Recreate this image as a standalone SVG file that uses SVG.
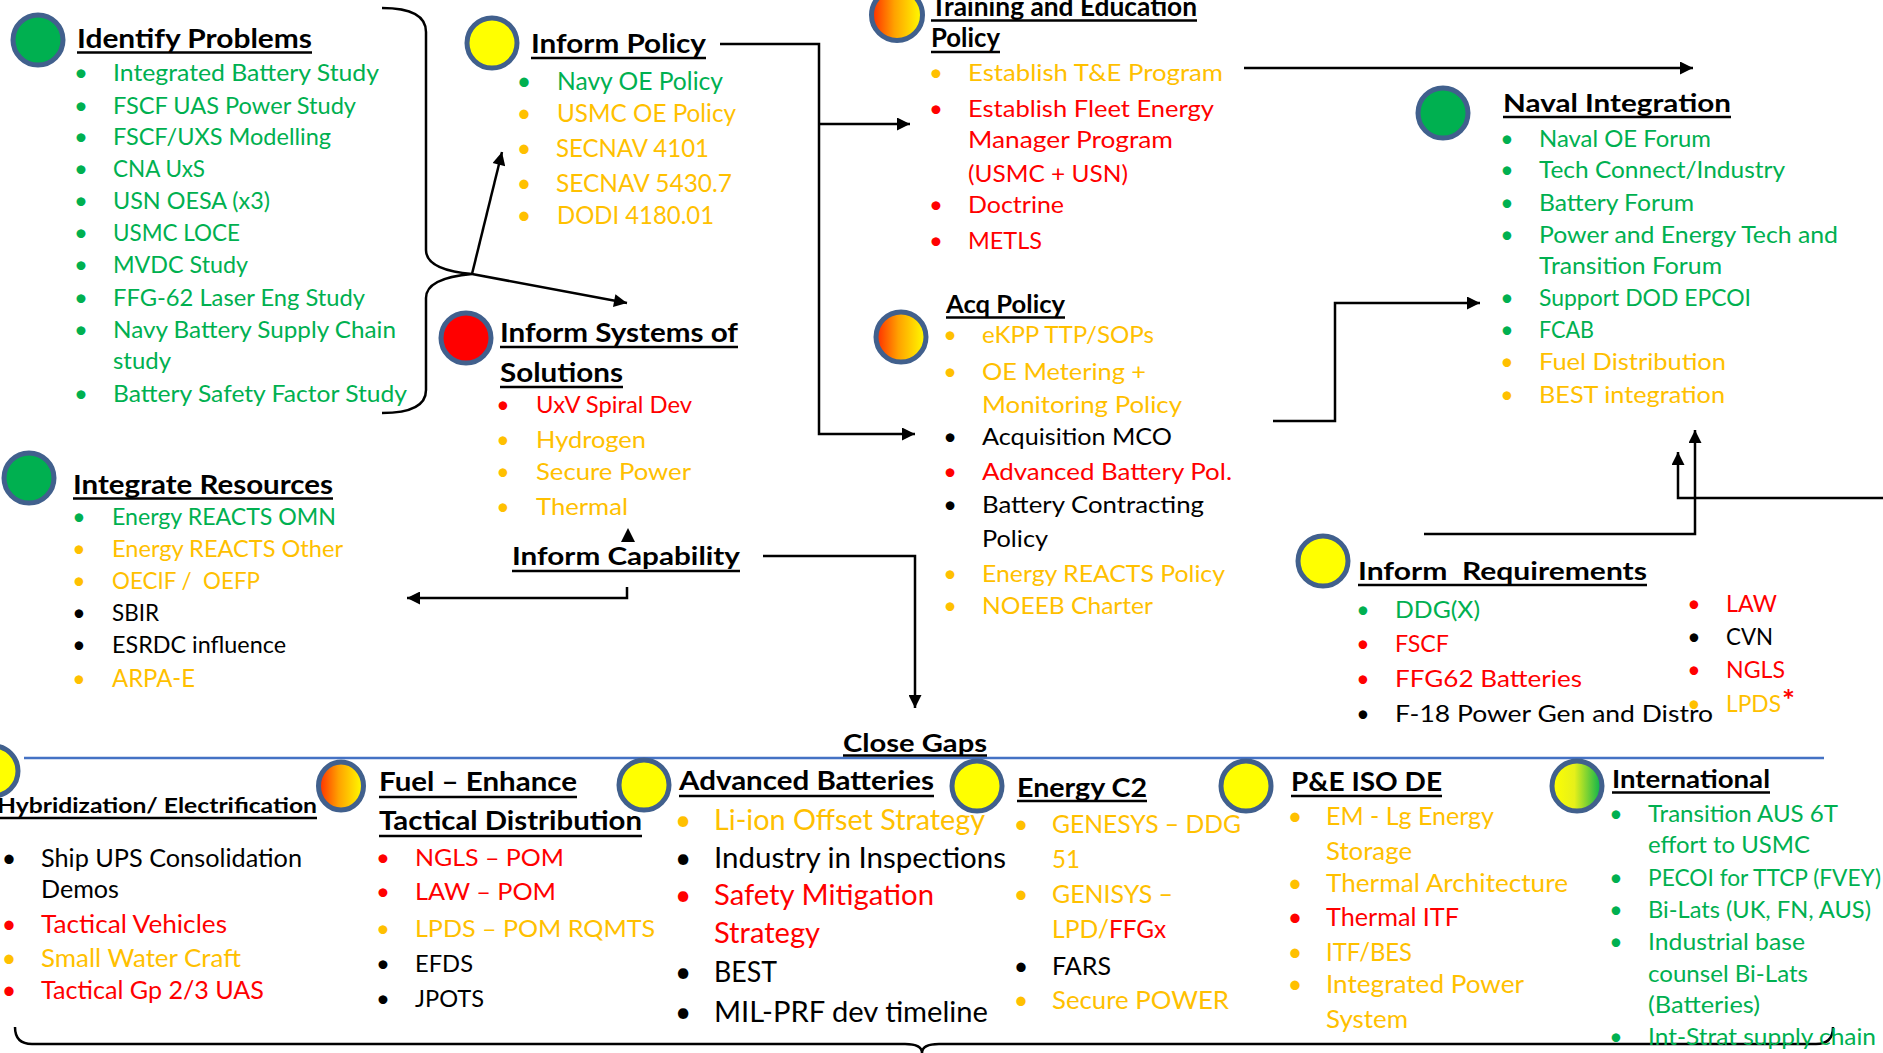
<svg xmlns="http://www.w3.org/2000/svg" width="1883" height="1053" viewBox="0 0 1883 1053">
<style>
text{font-family:Lato,"Liberation Sans",sans-serif}
.h{font-weight:700;fill:#000}
.g{fill:#00B050}.y{fill:#FFC000}.r{fill:#FF0000}.k{fill:#000}
.ul{stroke:#000;stroke-width:2.5}
.ring{stroke:#41608D;stroke-width:5}
.c{fill:none;stroke:#000;stroke-width:2.5}
.bu{text-anchor:middle}
</style>
<defs>
<marker id="ah" viewBox="0 0 10 10" refX="10" refY="5" markerWidth="15" markerHeight="13" markerUnits="userSpaceOnUse" orient="auto"><path d="M0,0 L10,5 L0,10 z" fill="#000"/></marker>
<linearGradient id="og" x1="0" y1="0" x2="1" y2="0"><stop offset="0" stop-color="#FF2A00"/><stop offset="0.45" stop-color="#FFA200"/><stop offset="1" stop-color="#FFFF00"/></linearGradient>
<linearGradient id="yg" x1="0" y1="0" x2="1" y2="0"><stop offset="0" stop-color="#FFFF00"/><stop offset="0.45" stop-color="#E6F01A"/><stop offset="1" stop-color="#00B050"/></linearGradient>
</defs>
<rect width="1883" height="1053" fill="#fff"/>

<g id="connectors">
<path class="c" stroke-width="2" d="M382,8 Q426,8 426,32 L426,250 Q426,270 472,274 Q426,278 426,298 L426,390 Q426,413 382,413"/>
<path class="c" d="M472,274 L502,152" marker-end="url(#ah)"/>
<path class="c" d="M472,274 L627,303" marker-end="url(#ah)"/>
<path class="c" d="M720,44 H819 V434 H915" marker-end="url(#ah)"/>
<path class="c" d="M819,124 H910" marker-end="url(#ah)"/>
<path class="c" d="M1244,68 H1693" marker-end="url(#ah)"/>
<path class="c" d="M1273,421 H1335 V303 H1480" marker-end="url(#ah)"/>
<polygon points="628,528 621,542 635,542" fill="#000"/>
<path class="c" d="M627,587 V598 H407" marker-end="url(#ah)"/>
<path class="c" d="M763,556 H915 V708" marker-end="url(#ah)"/>
<path class="c" d="M1424,534 H1695 V430" marker-end="url(#ah)"/>
<path class="c" d="M1883,498 H1678 V452" marker-end="url(#ah)"/>
<path d="M24,758 H1824" stroke="#4472C4" stroke-width="2.5" fill="none"/>
<path class="c" stroke-width="3" d="M15,1027 Q15,1044 32,1044 L905,1044 Q922,1044 922,1053 Q922,1044 939,1044 L1816,1044 Q1833,1044 1833,1027"/>
</g>

<g id="identify-problems">
<circle class="ring" cx="38" cy="40" r="25" fill="#00B050"/>
<text class="h" x="77" y="48" font-size="27" textLength="235" lengthAdjust="spacingAndGlyphs">Identify Problems</text>
<line class="ul" x1="77" y1="52.5" x2="312" y2="52.5"/>
<g font-size="24" class="g">
<text class="bu" x="81" y="81">•</text><text x="113" y="81" textLength="266" lengthAdjust="spacingAndGlyphs">Integrated Battery Study</text>
<text class="bu" x="81" y="114">•</text><text x="113" y="114" textLength="243" lengthAdjust="spacingAndGlyphs">FSCF UAS Power Study</text>
<text class="bu" x="81" y="145">•</text><text x="113" y="145" textLength="218" lengthAdjust="spacingAndGlyphs">FSCF/UXS Modelling</text>
<text class="bu" x="81" y="177">•</text><text x="113" y="177" textLength="92" lengthAdjust="spacingAndGlyphs">CNA UxS</text>
<text class="bu" x="81" y="209">•</text><text x="113" y="209" textLength="157" lengthAdjust="spacingAndGlyphs">USN OESA (x3)</text>
<text class="bu" x="81" y="241">•</text><text x="113" y="241" textLength="127" lengthAdjust="spacingAndGlyphs">USMC LOCE</text>
<text class="bu" x="81" y="273">•</text><text x="113" y="273" textLength="135" lengthAdjust="spacingAndGlyphs">MVDC Study</text>
<text class="bu" x="81" y="306">•</text><text x="113" y="306" textLength="252" lengthAdjust="spacingAndGlyphs">FFG-62 Laser Eng Study</text>
<text class="bu" x="81" y="338">•</text><text x="113" y="338" textLength="283" lengthAdjust="spacingAndGlyphs">Navy Battery Supply Chain</text>
<text x="113" y="369" textLength="58" lengthAdjust="spacingAndGlyphs">study</text>
<text class="bu" x="81" y="402">•</text><text x="113" y="402" textLength="294" lengthAdjust="spacingAndGlyphs">Battery Safety Factor Study</text>
</g>
</g>

<g id="inform-policy">
<circle class="ring" cx="492" cy="43" r="25" fill="#FFFF00"/>
<text class="h" x="531" y="53" font-size="26" textLength="175" lengthAdjust="spacingAndGlyphs">Inform Policy</text>
<line class="ul" x1="531" y1="58" x2="706" y2="58"/>
<g font-size="25">
<text class="bu g" x="524" y="90">•</text><text class="g" x="557" y="90" textLength="166" lengthAdjust="spacingAndGlyphs">Navy OE Policy</text>
<text class="bu y" x="524" y="122">•</text><text class="y" x="557" y="122" textLength="179" lengthAdjust="spacingAndGlyphs">USMC OE Policy</text>
<text class="bu y" x="524" y="157">•</text><text class="y" x="556" y="157" textLength="153" lengthAdjust="spacingAndGlyphs">SECNAV 4101</text>
<text class="bu y" x="524" y="192">•</text><text class="y" x="556" y="192" textLength="176" lengthAdjust="spacingAndGlyphs">SECNAV 5430.7</text>
<text class="bu y" x="524" y="224">•</text><text class="y" x="557" y="224" textLength="157" lengthAdjust="spacingAndGlyphs">DODI 4180.01</text>
</g>
</g>

<g id="training-education-policy">
<circle class="ring" cx="897" cy="15" r="25.5" fill="url(#og)"/>
<text class="h" x="931" y="16" font-size="26" textLength="266" lengthAdjust="spacingAndGlyphs">Training and Education</text>
<line class="ul" x1="931" y1="20.5" x2="1197" y2="20.5"/>
<text class="h" x="931" y="47" font-size="26" textLength="69" lengthAdjust="spacingAndGlyphs">Policy</text>
<line class="ul" x1="931" y1="52" x2="1000" y2="52"/>
<g font-size="24">
<text class="bu y" x="936" y="81">•</text><text class="y" x="968" y="81" textLength="255" lengthAdjust="spacingAndGlyphs">Establish T&amp;E Program</text>
<text class="bu r" x="936" y="117">•</text><text class="r" x="968" y="117" textLength="246" lengthAdjust="spacingAndGlyphs">Establish Fleet Energy</text>
<text class="r" x="968" y="148" textLength="205" lengthAdjust="spacingAndGlyphs">Manager Program</text>
<text class="r" x="968" y="182" textLength="160" lengthAdjust="spacingAndGlyphs">(USMC + USN)</text>
<text class="bu r" x="936" y="213">•</text><text class="r" x="968" y="213" textLength="96" lengthAdjust="spacingAndGlyphs">Doctrine</text>
<text class="bu r" x="936" y="249">•</text><text class="r" x="968" y="249" textLength="74" lengthAdjust="spacingAndGlyphs">METLS</text>
</g>
</g>

<g id="naval-integration">
<circle class="ring" cx="1443" cy="113" r="25" fill="#00B050"/>
<text class="h" x="1503" y="112" font-size="25.5" textLength="228" lengthAdjust="spacingAndGlyphs">Naval Integration</text>
<line class="ul" x1="1503" y1="117" x2="1731" y2="117"/>
<g font-size="23">
<text class="bu g" x="1507" y="147">•</text><text class="g" x="1539" y="147" textLength="172" lengthAdjust="spacingAndGlyphs">Naval OE Forum</text>
<text class="bu g" x="1507" y="178">•</text><text class="g" x="1539" y="178" textLength="246" lengthAdjust="spacingAndGlyphs">Tech Connect/Industry</text>
<text class="bu g" x="1507" y="211">•</text><text class="g" x="1539" y="211" textLength="155" lengthAdjust="spacingAndGlyphs">Battery Forum</text>
<text class="bu g" x="1507" y="243">•</text><text class="g" x="1539" y="243" textLength="299" lengthAdjust="spacingAndGlyphs">Power and Energy Tech and</text>
<text class="g" x="1539" y="274" textLength="183" lengthAdjust="spacingAndGlyphs">Transition Forum</text>
<text class="bu g" x="1507" y="306">•</text><text class="g" x="1539" y="306" textLength="212" lengthAdjust="spacingAndGlyphs">Support DOD EPCOI</text>
<text class="bu g" x="1507" y="338">•</text><text class="g" x="1539" y="338" textLength="55" lengthAdjust="spacingAndGlyphs">FCAB</text>
<text class="bu y" x="1507" y="370">•</text><text class="y" x="1539" y="370" textLength="187" lengthAdjust="spacingAndGlyphs">Fuel Distribution</text>
<text class="bu y" x="1507" y="403">•</text><text class="y" x="1539" y="403" textLength="186" lengthAdjust="spacingAndGlyphs">BEST integration</text>
</g>
</g>

<g id="inform-systems-of-solutions">
<circle class="ring" cx="466" cy="338" r="25" fill="#FF0000"/>
<text class="h" x="500" y="342" font-size="26.5" textLength="238" lengthAdjust="spacingAndGlyphs">Inform Systems of</text>
<line class="ul" x1="500" y1="347" x2="738" y2="347"/>
<text class="h" x="500" y="382" font-size="26.5" textLength="123" lengthAdjust="spacingAndGlyphs">Solutions</text>
<line class="ul" x1="500" y1="387" x2="623" y2="387"/>
<g font-size="23">
<text class="bu r" x="503" y="413">•</text><text class="r" x="536" y="413" textLength="156" lengthAdjust="spacingAndGlyphs">UxV Spiral Dev</text>
<text class="bu y" x="503" y="448">•</text><text class="y" x="536" y="448" textLength="110" lengthAdjust="spacingAndGlyphs">Hydrogen</text>
<text class="bu y" x="503" y="480">•</text><text class="y" x="536" y="480" textLength="155" lengthAdjust="spacingAndGlyphs">Secure Power</text>
<text class="bu y" x="503" y="515">•</text><text class="y" x="536" y="515" textLength="92" lengthAdjust="spacingAndGlyphs">Thermal</text>
</g>
</g>

<g id="inform-capability">
<text class="h" x="512" y="565" font-size="25.5" textLength="228" lengthAdjust="spacingAndGlyphs">Inform Capability</text>
<line class="ul" x1="512" y1="571" x2="740" y2="571"/>
</g>

<g id="integrate-resources">
<circle class="ring" cx="29" cy="478" r="25" fill="#00B050"/>
<text class="h" x="73" y="494" font-size="26.5" textLength="260" lengthAdjust="spacingAndGlyphs">Integrate Resources</text>
<line class="ul" x1="73" y1="498.5" x2="333" y2="498.5"/>
<g font-size="23">
<text class="bu g" x="79" y="525">•</text><text class="g" x="112" y="525" textLength="224" lengthAdjust="spacingAndGlyphs">Energy REACTS OMN</text>
<text class="bu y" x="79" y="557">•</text><text class="y" x="112" y="557" textLength="231" lengthAdjust="spacingAndGlyphs">Energy REACTS Other</text>
<text class="bu y" x="79" y="589">•</text><text class="y" x="112" y="589" textLength="148" lengthAdjust="spacingAndGlyphs" style="white-space:pre">OECIF /  OEFP</text>
<text class="bu k" x="79" y="621">•</text><text class="k" x="112" y="621" textLength="47" lengthAdjust="spacingAndGlyphs">SBIR</text>
<text class="bu k" x="79" y="653">•</text><text class="k" x="112" y="653" textLength="174" lengthAdjust="spacingAndGlyphs">ESRDC influence</text>
<text class="bu y" x="79" y="687">•</text><text class="y" x="112" y="687" font-size="25" textLength="83" lengthAdjust="spacingAndGlyphs">ARPA-E</text>
</g>
</g>

<g id="acq-policy">
<circle class="ring" cx="901" cy="337" r="25" fill="url(#og)"/>
<text class="h" x="946" y="313" font-size="24" textLength="119" lengthAdjust="spacingAndGlyphs">Acq Policy</text>
<line class="ul" x1="946" y1="317.5" x2="1065" y2="317.5"/>
<g font-size="23.5">
<text class="bu y" x="950" y="343">•</text><text class="y" x="982" y="343" textLength="172" lengthAdjust="spacingAndGlyphs">eKPP TTP/SOPs</text>
<text class="bu y" x="950" y="380">•</text><text class="y" x="982" y="380" textLength="164" lengthAdjust="spacingAndGlyphs">OE Metering +</text>
<text class="y" x="982" y="413" textLength="200" lengthAdjust="spacingAndGlyphs">Monitoring Policy</text>
<text class="bu k" x="950" y="445">•</text><text class="k" x="982" y="445" textLength="190" lengthAdjust="spacingAndGlyphs">Acquisition MCO</text>
<text class="bu r" x="950" y="480">•</text><text class="r" x="982" y="480" textLength="250" lengthAdjust="spacingAndGlyphs">Advanced Battery Pol.</text>
<text class="bu k" x="950" y="513">•</text><text class="k" x="982" y="513" textLength="222" lengthAdjust="spacingAndGlyphs">Battery Contracting</text>
<text class="k" x="982" y="547" textLength="66" lengthAdjust="spacingAndGlyphs">Policy</text>
<text class="bu y" x="950" y="582">•</text><text class="y" x="982" y="582" textLength="243" lengthAdjust="spacingAndGlyphs">Energy REACTS Policy</text>
<text class="bu y" x="950" y="614">•</text><text class="y" x="982" y="614" textLength="171" lengthAdjust="spacingAndGlyphs">NOEEB Charter</text>
</g>
</g>

<g id="inform-requirements">
<circle class="ring" cx="1323" cy="561" r="25" fill="#FFFF00"/>
<text class="h" x="1358" y="580" font-size="25" textLength="289" lengthAdjust="spacingAndGlyphs" style="white-space:pre">Inform  Requirements</text>
<line class="ul" x1="1358" y1="585" x2="1647" y2="585"/>
<g font-size="23">
<text class="bu g" x="1363" y="618">•</text><text class="g" x="1395" y="618" textLength="85" lengthAdjust="spacingAndGlyphs">DDG(X)</text>
<text class="bu r" x="1363" y="652">•</text><text class="r" x="1395" y="652" textLength="54" lengthAdjust="spacingAndGlyphs">FSCF</text>
<text class="bu r" x="1363" y="687">•</text><text class="r" x="1395" y="687" textLength="187" lengthAdjust="spacingAndGlyphs">FFG62 Batteries</text>
<text class="bu k" x="1363" y="722">•</text><text class="k" x="1395" y="722" textLength="318" lengthAdjust="spacingAndGlyphs">F-18 Power Gen and Distro</text>
<text class="bu r" x="1694" y="612">•</text><text class="r" x="1726" y="612" textLength="51" lengthAdjust="spacingAndGlyphs">LAW</text>
<text class="bu k" x="1694" y="645">•</text><text class="k" x="1726" y="645" textLength="47" lengthAdjust="spacingAndGlyphs">CVN</text>
<text class="bu r" x="1694" y="678">•</text><text class="r" x="1726" y="678" textLength="59" lengthAdjust="spacingAndGlyphs">NGLS</text>
<text class="bu y" x="1694" y="712">•</text><text class="y" x="1726" y="712" textLength="55" lengthAdjust="spacingAndGlyphs">LPDS</text><text class="r" x="1782" y="710" font-weight="700" font-size="28" textLength="13" lengthAdjust="spacingAndGlyphs">*</text>
</g>
</g>

<g id="close-gaps">
<text class="h" x="843" y="752" font-size="25" textLength="144" lengthAdjust="spacingAndGlyphs">Close Gaps</text>
<line class="ul" x1="843" y1="755.5" x2="987" y2="755.5" stroke-width="2"/>
</g>

<g id="hybridization-electrification">
<circle class="ring" cx="-7" cy="771" r="25" fill="#FFFF00"/>
<text class="h" x="-3" y="813" font-size="21" textLength="320" lengthAdjust="spacingAndGlyphs">Hybridization/ Electrification</text>
<line class="ul" x1="0" y1="818" x2="317" y2="818"/>
<g font-size="25">
<text class="bu k" x="9" y="867">•</text><text class="k" x="41" y="867" textLength="261" lengthAdjust="spacingAndGlyphs">Ship UPS Consolidation</text>
<text class="k" x="41" y="898" textLength="78" lengthAdjust="spacingAndGlyphs">Demos</text>
<text class="bu r" x="9" y="933">•</text><text class="r" x="41" y="933" textLength="186" lengthAdjust="spacingAndGlyphs">Tactical Vehicles</text>
<text class="bu y" x="9" y="967">•</text><text class="y" x="41" y="967" textLength="200" lengthAdjust="spacingAndGlyphs">Small Water Craft</text>
<text class="bu r" x="9" y="999">•</text><text class="r" x="41" y="999" textLength="223" lengthAdjust="spacingAndGlyphs">Tactical Gp 2/3 UAS</text>
</g>
</g>

<g id="fuel-tactical-distribution">
<ellipse class="ring" cx="341" cy="786" rx="22.5" ry="24" fill="url(#og)"/>
<text class="h" x="379" y="791" font-size="27" textLength="198" lengthAdjust="spacingAndGlyphs">Fuel – Enhance</text>
<line class="ul" x1="379" y1="797" x2="577" y2="797"/>
<text class="h" x="379" y="830" font-size="27" textLength="263" lengthAdjust="spacingAndGlyphs">Tactical Distribution</text>
<line class="ul" x1="379" y1="836" x2="642" y2="836"/>
<g font-size="24">
<text class="bu r" x="383" y="866">•</text><text class="r" x="415" y="866" textLength="149" lengthAdjust="spacingAndGlyphs">NGLS – POM</text>
<text class="bu r" x="383" y="900">•</text><text class="r" x="415" y="900" textLength="141" lengthAdjust="spacingAndGlyphs">LAW – POM</text>
<text class="bu y" x="383" y="937">•</text><text class="y" x="415" y="937" textLength="240" lengthAdjust="spacingAndGlyphs">LPDS – POM RQMTS</text>
<text class="bu k" x="383" y="972">•</text><text class="k" x="415" y="972" textLength="58" lengthAdjust="spacingAndGlyphs">EFDS</text>
<text class="bu k" x="383" y="1007">•</text><text class="k" x="415" y="1007" textLength="69" lengthAdjust="spacingAndGlyphs">JPOTS</text>
</g>
</g>

<g id="advanced-batteries">
<circle class="ring" cx="644" cy="785" r="25" fill="#FFFF00"/>
<text class="h" x="679" y="790" font-size="26" textLength="255" lengthAdjust="spacingAndGlyphs">Advanced Batteries</text>
<line class="ul" x1="679" y1="796" x2="934" y2="796"/>
<g font-size="28">
<text class="bu y" x="683" y="830">•</text><text class="y" x="714" y="830" textLength="271" lengthAdjust="spacingAndGlyphs">Li-ion Offset Strategy</text>
<text class="bu k" x="683" y="868">•</text><text class="k" x="714" y="868" textLength="292" lengthAdjust="spacingAndGlyphs">Industry in Inspections</text>
<text class="bu r" x="683" y="905">•</text><text class="r" x="714" y="905" textLength="220" lengthAdjust="spacingAndGlyphs">Safety Mitigation</text>
<text class="r" x="714" y="943" textLength="106" lengthAdjust="spacingAndGlyphs">Strategy</text>
<text class="bu k" x="683" y="982">•</text><text class="k" x="714" y="982" textLength="63" lengthAdjust="spacingAndGlyphs">BEST</text>
<text class="bu k" x="683" y="1022">•</text><text class="k" x="714" y="1022" textLength="274" lengthAdjust="spacingAndGlyphs">MIL-PRF dev timeline</text>
</g>
</g>

<g id="energy-c2">
<circle class="ring" cx="977" cy="786" r="25" fill="#FFFF00"/>
<text class="h" x="1017" y="797" font-size="26" textLength="130" lengthAdjust="spacingAndGlyphs">Energy C2</text>
<line class="ul" x1="1017" y1="801" x2="1147" y2="801"/>
<g font-size="25">
<text class="bu y" x="1021" y="833">•</text><text class="y" x="1052" y="833" textLength="189" lengthAdjust="spacingAndGlyphs">GENESYS – DDG</text>
<text class="y" x="1052" y="868" textLength="28" lengthAdjust="spacingAndGlyphs">51</text>
<text class="bu y" x="1021" y="903">•</text><text class="y" x="1052" y="903" textLength="121" lengthAdjust="spacingAndGlyphs">GENISYS –</text>
<text class="y" x="1052" y="938" textLength="57" lengthAdjust="spacingAndGlyphs">LPD/</text><text class="r" x="1109" y="938" textLength="57" lengthAdjust="spacingAndGlyphs">FFGx</text>
<text class="bu k" x="1021" y="975">•</text><text class="k" x="1052" y="975" textLength="59" lengthAdjust="spacingAndGlyphs">FARS</text>
<text class="bu y" x="1021" y="1009">•</text><text class="y" x="1052" y="1009" textLength="177" lengthAdjust="spacingAndGlyphs">Secure POWER</text>
</g>
</g>

<g id="pe-iso-de">
<circle class="ring" cx="1246" cy="786" r="25" fill="#FFFF00"/>
<text class="h" x="1291" y="791" font-size="27" textLength="151" lengthAdjust="spacingAndGlyphs">P&amp;E ISO DE</text>
<line class="ul" x1="1291" y1="796" x2="1442" y2="796"/>
<g font-size="25">
<text class="bu y" x="1295" y="825">•</text><text class="y" x="1326" y="825" textLength="168" lengthAdjust="spacingAndGlyphs">EM - Lg Energy</text>
<text class="y" x="1326" y="860" textLength="86" lengthAdjust="spacingAndGlyphs">Storage</text>
<text class="bu y" x="1295" y="892">•</text><text class="y" x="1326" y="892" textLength="242" lengthAdjust="spacingAndGlyphs">Thermal Architecture</text>
<text class="bu r" x="1295" y="926">•</text><text class="r" x="1326" y="926" textLength="133" lengthAdjust="spacingAndGlyphs">Thermal ITF</text>
<text class="bu y" x="1295" y="961">•</text><text class="y" x="1326" y="961" textLength="86" lengthAdjust="spacingAndGlyphs">ITF/BES</text>
<text class="bu y" x="1295" y="993">•</text><text class="y" x="1326" y="993" textLength="198" lengthAdjust="spacingAndGlyphs">Integrated Power</text>
<text class="y" x="1326" y="1028" textLength="82" lengthAdjust="spacingAndGlyphs">System</text>
</g>
</g>

<g id="international">
<circle class="ring" cx="1577" cy="786" r="25" fill="url(#yg)"/>
<text class="h" x="1612" y="788" font-size="25" textLength="158" lengthAdjust="spacingAndGlyphs">International</text>
<line class="ul" x1="1612" y1="792.5" x2="1770" y2="792.5"/>
<g font-size="23" class="g">
<text class="bu" x="1616" y="822">•</text><text x="1648" y="822" textLength="190" lengthAdjust="spacingAndGlyphs">Transition AUS 6T</text>
<text x="1648" y="853" textLength="162" lengthAdjust="spacingAndGlyphs">effort to USMC</text>
<text class="bu" x="1616" y="886">•</text><text x="1648" y="886" textLength="233" lengthAdjust="spacingAndGlyphs">PECOI for TTCP (FVEY)</text>
<text class="bu" x="1616" y="918">•</text><text x="1648" y="918" textLength="223" lengthAdjust="spacingAndGlyphs">Bi-Lats (UK, FN, AUS)</text>
<text class="bu" x="1616" y="950">•</text><text x="1648" y="950" textLength="157" lengthAdjust="spacingAndGlyphs">Industrial base</text>
<text x="1648" y="982" textLength="160" lengthAdjust="spacingAndGlyphs">counsel Bi-Lats</text>
<text x="1648" y="1013" textLength="112" lengthAdjust="spacingAndGlyphs">(Batteries)</text>
<text class="bu" x="1616" y="1045">•</text><text x="1648" y="1045" textLength="228" lengthAdjust="spacingAndGlyphs">Int-Strat supply chain</text>
</g>
</g>
</svg>
